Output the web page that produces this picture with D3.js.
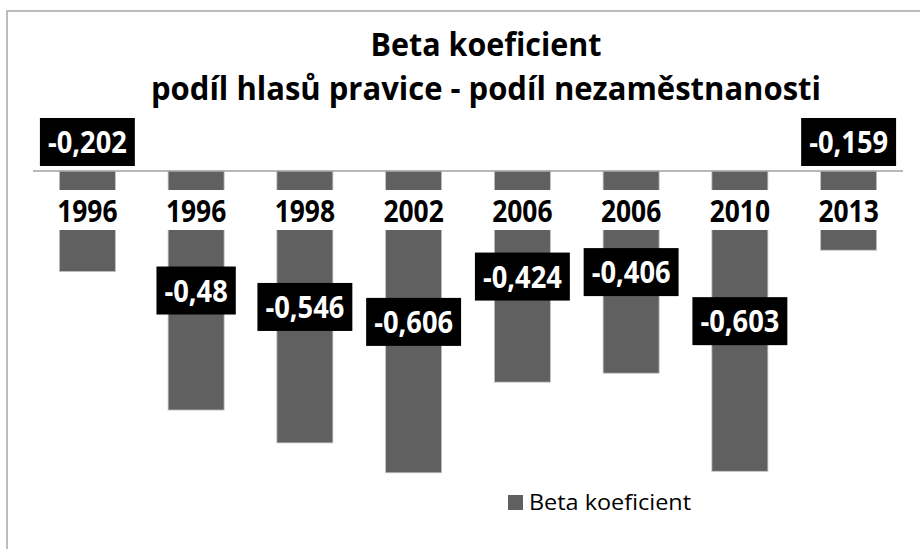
<!DOCTYPE html>
<html>
<head>
<meta charset="utf-8">
<script src="https://cdn.jsdelivr.net/npm/d3@7"></script>
<style>
  html, body { margin: 0; padding: 0; background: #fff; }
  svg { display: block; font-family: "Open Sans", "Noto Sans", sans-serif; }
</style>
</head>
<body>
<script>
// chart data
const years = ["1996", "1996", "1998", "2002", "2006", "2006", "2010", "2013"];
const betaValues = [-0.202, -0.48, -0.546, -0.606, -0.424, -0.406, -0.603, -0.159];
const labelTexts = ["-0,202", "-0,48", "-0,546", "-0,606", "-0,424", "-0,406", "-0,603", "-0,159"];
const titleLines = ["Beta koeficient", "podíl hlasů pravice - podíl nezaměstnanosti"];
const seriesName = "Beta koeficient";

const width = 920;
const height = 549;
const narrow = 0.88; // squeeze Open Sans toward the narrower original face

const svg = d3.select("body")
  .append("svg")
  .attr("width", width)
  .attr("height", height);

// chart frame (runs off the right and bottom edges)
svg.append("rect")
  .attr("x", 7).attr("y", 11)
  .attr("width", width + 20).attr("height", height + 20)
  .attr("fill", "#fff")
  .attr("stroke", "#a6a6a6")
  .attr("stroke-width", 1.5);

// title
const titleWidths = [231, 670];
svg.selectAll("text.title")
  .data(titleLines)
  .enter()
  .append("text")
  .attr("class", "title")
  .attr("x", 486)
  .attr("y", (d, i) => 56 + i * 44)
  .attr("text-anchor", "middle")
  .attr("font-size", 33)
  .attr("font-weight", "bold")
  .attr("fill", "#000")
  .attr("textLength", (d, i) => titleWidths[i])
  .attr("lengthAdjust", "spacingAndGlyphs")
  .text(d => d);

const x = d3.scaleBand()
  .domain(d3.range(years.length))
  .range([33, 903])
  .paddingInner(0.485)
  .paddingOuter(0.2425);

const y = d3.scaleLinear()
  .domain([-0.7, 0])
  .range([171 + 0.7 * 498, 171]);

// bars
svg.selectAll("rect.bar")
  .data(betaValues)
  .enter()
  .append("rect")
  .attr("class", "bar")
  .attr("x", (d, i) => x(i))
  .attr("y", y(0))
  .attr("width", x.bandwidth())
  .attr("height", d => y(d) - y(0))
  .attr("fill", "#606060")
  .attr("stroke", "#c4c4c4")
  .attr("stroke-width", 0.8);

// zero axis line
svg.append("line")
  .attr("x1", 33).attr("x2", 903)
  .attr("y1", y(0)).attr("y2", y(0))
  .attr("stroke", "#a0a0a0")
  .attr("stroke-width", 1.5);

// category labels sit on a white band across the bars
const bandTop = 190, bandBottom = 230;
svg.append("rect")
  .attr("x", 33).attr("y", bandTop)
  .attr("width", 870).attr("height", bandBottom - bandTop)
  .attr("fill", "#fff");

const xAxis = d3.axisBottom(x)
  .tickSize(0)
  .tickFormat(i => years[i]);

const axisG = svg.append("g")
  .attr("transform", `translate(0,${bandTop})`)
  .call(xAxis);
axisG.select(".domain").remove();
axisG.selectAll("text")
  .attr("dy", null)
  .attr("y", 0)
  .attr("transform", `translate(0,32) scale(${narrow},1)`)
  .attr("font-family", "\"Open Sans\", sans-serif")
  .attr("font-size", 30)
  .attr("font-weight", "bold")
  .attr("fill", "#000");

// data labels: black boxes with white text
const labels = svg.selectAll("g.dlabel")
  .data(betaValues)
  .enter()
  .append("g")
  .attr("class", "dlabel")
  .attr("transform", (d, i) => {
    let cy = (y(0) + y(d)) / 2;
    // label would collide with the category labels: lift it above the axis
    if (cy > bandTop - 24 && cy < bandBottom + 24) cy = y(0) - 29;
    return `translate(${x(i) + x.bandwidth() / 2},${cy})`;
  });

labels.append("rect").attr("fill", "#000");
labels.append("text")
  .attr("text-anchor", "middle")
  .attr("dy", "0.36em")
  .attr("transform", `scale(${narrow},1)`)
  .attr("font-size", 31)
  .attr("font-weight", "bold")
  .attr("fill", "#fff")
  .text((d, i) => labelTexts[i]);

labels.each(function () {
  const t = d3.select(this).select("text").node();
  const w = t.getComputedTextLength() * narrow + 16;
  d3.select(this).select("rect")
    .attr("x", -w / 2).attr("y", -24)
    .attr("width", w).attr("height", 48);
});

// legend
const legend = svg.append("g").attr("transform", "translate(508,495)");
legend.append("rect")
  .attr("width", 15).attr("height", 15)
  .attr("fill", "#606060");
legend.append("text")
  .attr("x", 21).attr("y", 15)
  .attr("font-size", 22)
  .attr("fill", "#000")
  .attr("textLength", 162)
  .attr("lengthAdjust", "spacingAndGlyphs")
  .text(seriesName);
</script>
</body>
</html>
